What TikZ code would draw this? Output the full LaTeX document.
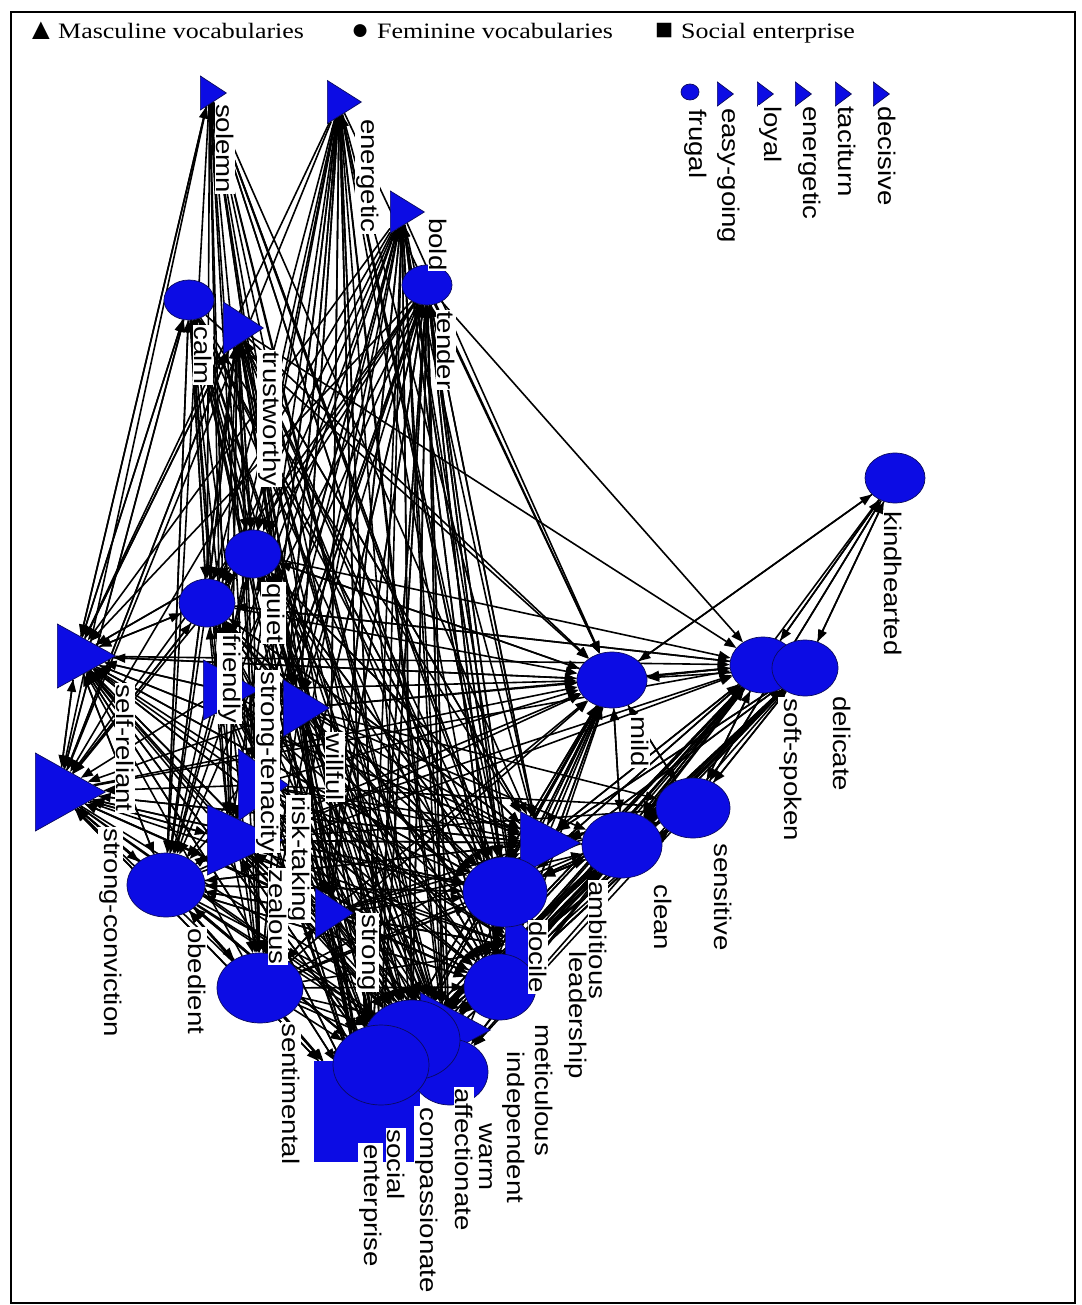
\documentclass[tikz,border=0pt]{standalone}
\usepackage{fontspec}
\usetikzlibrary{shapes.geometric,arrows.meta}
\newfontfamily\labfont{Liberation Sans}
\newfontfamily\legfont{Liberation Serif}
\definecolor{nodeblue}{RGB}{12,12,228}
\definecolor{nodeline}{RGB}{10,10,95}
\pgfdeclarelayer{bg}
\pgfsetlayers{bg,main}
\newcommand{\vtext}[1]{\scalebox{1.15}[1]{#1}}
\newcommand{\legtext}[1]{\scalebox{1.18}[1]{#1}}

\tikzset{
  tri/.style={isosceles triangle, isosceles triangle stretches, shape border rotate=0,
    fill=nodeblue, draw=nodeline, line width=0.7pt, inner sep=0pt, anchor=lower side},
  circ/.style={ellipse, fill=nodeblue, draw=nodeline, line width=0.7pt, inner sep=0pt},
  sq/.style={rectangle, fill=nodeblue, draw=nodeblue, inner sep=0pt},
  lab/.style={fill=white, inner sep=1pt, rotate=-90, anchor=south west,
    font=\labfont\fontsize{24}{26}\selectfont},
  edge/.style={line width=1.6pt, -{Triangle[length=12pt,width=9pt]}},
  legend/.style={anchor=base west, inner sep=0pt, font=\legfont\fontsize{22}{24}\selectfont},
  legmark/.style={anchor=base west, inner sep=0pt, font=\legfont\fontsize{30}{30}\selectfont},
}

\def\toplist{solemn,energ,bold,tender,calm,trust}
\def\leftlist{quiet,friendly,selfrel,conv,tenac,willful,risk,zealous,obed,strong,senti}
\def\botlist{ambit,docile,leader,metic,indep,warm,affec,compas,soc}
\def\rightlist{mild,soft,delic,sensi,clean}

\begin{document}
\begin{tikzpicture}[x=1pt,y=-1pt]
\useasboundingbox (0,0) rectangle (1081,1305);
\begin{pgfonlayer}{bg}
\fill[white] (0,0) rectangle (1081,1305);
\end{pgfonlayer}
\draw[line width=1.3pt] (11,12) rectangle (1075,1303);

% legend line
\node[legmark] (legmt) at (26,40) {▲};
\node[legend] (legm) at (58,39) {\legtext{Masculine vocabularies}};
\node[legmark] (legft) at (351,40) {●};
\node[legend] (legf) at (377,39) {\legtext{Feminine vocabularies}};
\node[legmark] (legst) at (655,40) {■};
\node[legend] (legs) at (681,39) {\legtext{Social enterprise}};

% isolates in the upper right
\node[tri, minimum width=24, minimum height=16] (dec) at (873,94) {};
\node[tri, minimum width=24, minimum height=16] (tac) at (835,94) {};
\node[tri, minimum width=24, minimum height=16] (ene2) at (795,94) {};
\node[tri, minimum width=24, minimum height=16] (loy) at (757,94) {};
\node[tri, minimum width=24, minimum height=16] (easy) at (717,94) {};
\node[circ, minimum width=18, minimum height=16] (frug) at (690,92) {};

% masculine vocabularies
\node[tri, minimum width=34, minimum height=26] (solemn) at (200,93) {};
\node[tri, minimum width=43, minimum height=34] (energ) at (327,102) {};
\node[tri, minimum width=42, minimum height=34] (bold) at (390,212) {};
\node[tri, minimum width=52, minimum height=40] (trust) at (223,328) {};
\node[tri, minimum width=64, minimum height=58] (selfrel) at (57,656) {};
\node[tri, minimum width=78, minimum height=70] (conv) at (35,792) {};
\node[tri, minimum width=60, minimum height=56] (tenac) at (203,690) {};
\node[tri, minimum width=57, minimum height=46] (willful) at (283,708) {};
\node[tri, minimum width=72, minimum height=50] (risk) at (238,785) {};
\node[tri, minimum width=70, minimum height=75] (zealous) at (207,840) {};
\node[tri, minimum width=50, minimum height=38] (strong) at (315,913) {};
\node[tri, minimum width=63, minimum height=60] (ambit) at (520,843) {};
\node[tri, minimum width=78, minimum height=40] (leader) at (505,948) {};

% feminine vocabularies
\node[circ, minimum width=50, minimum height=40] (calm) at (189,300) {};
\node[circ, minimum width=50, minimum height=40] (tender) at (427,285) {};
\node[circ, minimum width=56, minimum height=48] (quiet) at (253,554) {};
\node[circ, minimum width=56, minimum height=48] (friendly) at (207,603) {};
\node[circ, minimum width=78, minimum height=64] (obed) at (166,885) {};
\node[circ, minimum width=86, minimum height=70] (senti) at (260,988) {};
\node[circ, minimum width=60, minimum height=50] (kind) at (895,478) {};
\node[circ, minimum width=70, minimum height=56] (mild) at (612,680) {};
\node[circ, minimum width=66, minimum height=56] (soft) at (763,665) {};
\node[circ, minimum width=66, minimum height=56] (delic) at (805,668) {};
\node[circ, minimum width=74, minimum height=60] (sensi) at (693,808) {};
\node[circ, minimum width=80, minimum height=66] (clean) at (622,845) {};
\node[circ, minimum width=84, minimum height=70] (docile) at (505,892) {};
\node[circ, minimum width=72, minimum height=66] (metic) at (500,987) {};

% social enterprise and its neighbours
\node[sq, minimum width=105, minimum height=100] (soc) at (367,1111) {};
\node[tri, minimum width=75, minimum height=70] (indep) at (420,1030) {};
\node[circ, minimum width=76, minimum height=66] (warm) at (450,1072) {};
\node[circ, minimum width=96, minimum height=80] (affec) at (412,1040) {};
\node[circ, minimum width=96, minimum height=80] (compas) at (381,1065) {};

% ties
\begin{pgfonlayer}{bg}
\foreach \s in \toplist {\foreach \t in \botlist {\draw[edge] (\s) -- (\t);}}
\foreach \s in \toplist {\foreach \t in \leftlist {\draw[edge] (\s) -- (\t);}}
\foreach \s in \leftlist {\foreach \t in \botlist {\draw[edge] (\s) -- (\t);}}
\foreach \s in {docile,metic,compas,soc,ambit} {\foreach \t in {selfrel,conv,quiet,friendly,obed,zealous} {\draw[edge] (\s) -- (\t);}}
\foreach \s in {docile,metic,compas,soc,affec,warm,indep,leader,ambit,strong,senti,zealous,risk} {\draw[edge] (\s) -- (tender);}
\foreach \s in {docile,compas,soc,strong,senti,risk,willful} {\draw[edge] (\s) -- (energ);}
\foreach \s in {metic,docile,zealous,strong,affec} {\draw[edge] (\s) -- (bold);}
\foreach \s in {quiet,friendly,selfrel,conv,obed,zealous} {\draw[edge] (\s) -- (trust);}
\foreach \s/\t in {docile/solemn, compas/trust, ambit/trust, soc/calm, docile/calm,
  metic/solemn, selfrel/solemn, conv/calm, friendly/calm, selfrel/calm, obed/calm}
  {\draw[edge] (\s) -- (\t);}
\foreach \s/\t in {quiet/friendly, friendly/quiet, quiet/selfrel, selfrel/quiet, quiet/conv,
  friendly/selfrel, selfrel/friendly, friendly/conv, conv/friendly, selfrel/conv, conv/selfrel,
  selfrel/obed, obed/selfrel, conv/obed, obed/conv, tenac/selfrel, tenac/conv, zealous/selfrel,
  zealous/conv, conv/zealous, obed/senti, senti/obed, obed/zealous, zealous/obed, risk/obed,
  willful/friendly, willful/quiet, quiet/willful, willful/obed, strong/obed, strong/selfrel,
  senti/conv, senti/selfrel, risk/selfrel, tenac/obed, quiet/obed, friendly/obed, quiet/senti,
  friendly/senti, willful/senti, strong/senti, senti/strong, zealous/senti, risk/senti, tenac/quiet,
  willful/conv, willful/selfrel, strong/conv, risk/conv, zealous/friendly, strong/zealous,
  zealous/strong, willful/zealous, risk/zealous}
  {\draw[edge] (\s) -- (\t);}
\foreach \s/\t in {kind/soft, kind/delic, kind/mild, kind/sensi, kind/clean, soft/kind,
  delic/kind, sensi/kind, mild/kind, mild/soft, soft/mild, mild/sensi, sensi/mild, mild/clean,
  clean/mild, soft/sensi, sensi/soft, soft/clean, clean/soft, delic/sensi, delic/clean,
  delic/mild, sensi/delic}
  {\draw[edge] (\s) -- (\t);}
\foreach \s in \rightlist {\foreach \t in \botlist {\draw[edge] (\s) -- (\t);}}
\foreach \s in {docile,metic,compas,soc,ambit,affec} {\foreach \t in \rightlist {\draw[edge] (\s) -- (\t);}}
\foreach \s in \leftlist {\draw[edge] (\s) -- (mild);}
\foreach \s in {quiet,friendly,selfrel,conv,willful,zealous,obed} {\draw[edge] (\s) -- (soft);}
\foreach \s in {willful,risk,zealous,strong,senti} {\draw[edge] (\s) -- (sensi);}
\foreach \s in {willful,strong,senti,risk} {\draw[edge] (\s) -- (clean);}
\foreach \s/\t in {mild/quiet, mild/selfrel, soft/friendly, tender/soft, trust/soft,
  calm/mild, trust/mild, energ/mild, bold/mild, tender/mild}
  {\draw[edge] (\s) -- (\t);}
\end{pgfonlayer}

% labels
\node[lab] (l-dec) at (877,105) {\vtext{decisive}};
\node[lab] (l-tac) at (837,105) {\vtext{taciturn}};
\node[lab] (l-ene2) at (797,105) {\vtext{energetic}};
\node[lab] (l-loy) at (758,105) {\vtext{loyal}};
\node[lab] (l-easy) at (716,107) {\vtext{easy-going}};
\node[lab] (l-frug) at (683,108) {\vtext{frugal}};

\node[lab] (l-solemn) at (215,103) {\vtext{solemn}};
\node[lab] (l-energ) at (355,118) {\vtext{energetic}};
\node[lab] (l-bold) at (428,217) {\vtext{bold}};
\node[lab] (l-tender) at (436,310) {\vtext{tender}};
\node[lab] (l-calm) at (193,325) {\vtext{calm}};
\node[lab] (l-trust) at (257,350) {\vtext{trustworthy}};
\node[lab] (l-quiet) at (261,582) {\vtext{quiet}};
\node[lab] (l-friendly) at (217,633) {\vtext{friendly}};
\node[lab] (l-tenac) at (255,670) {\vtext{strong-tenacity}};
\node[lab] (l-willful) at (325,732) {\vtext{willful}};
\node[lab] (l-risk) at (286,795) {\vtext{risk-taking}};
\node[lab] (l-zealous) at (268,868) {\vtext{zealous}};
\node[lab] (l-selfrel) at (115,683) {\vtext{self-reliant}};
\node[lab] (l-conv) at (98,827) {\vtext{strong-conviction}};
\node[lab] (l-obed) at (187,927) {\vtext{obedient}};
\node[lab] (l-strong) at (356,913) {\vtext{strong}};
\node[lab] (l-senti) at (281,1022) {\vtext{sentimental}};
\node[lab] (l-kind) at (883,510) {\vtext{kindhearted}};
\node[lab] (l-mild) at (630,715) {\vtext{mild}};
\node[lab] (l-soft) at (778,697) {\vtext{soft-spoken}};
\node[lab] (l-delic) at (832,695) {\vtext{delicate}};
\node[lab] (l-sensi) at (713,842) {\vtext{sensitive}};
\node[lab] (l-clean) at (653,883) {\vtext{clean}};
\node[lab] (l-ambit) at (588,880) {\vtext{ambitious}};
\node[lab] (l-docile) at (528,920) {\vtext{docile}};
\node[lab] (l-leader) at (563,950) {\vtext{leadership}};
\node[lab] (l-metic) at (534,1023) {\vtext{meticulous}};
\node[lab] (l-indep) at (501,1050) {\vtext{independent}};
\node[lab] (l-warm) at (478,1122) {\vtext{warm}};
\node[lab] (l-affec) at (454,1087) {\vtext{affectionate}};
\node[lab] (l-compas) at (414,1106) {\vtext{compassionate}};
\node[lab] (l-soc1) at (386,1128) {\vtext{social}};
\node[lab] (l-soc2) at (358,1143) {\vtext{enterprise}};
\end{tikzpicture}
\end{document}
